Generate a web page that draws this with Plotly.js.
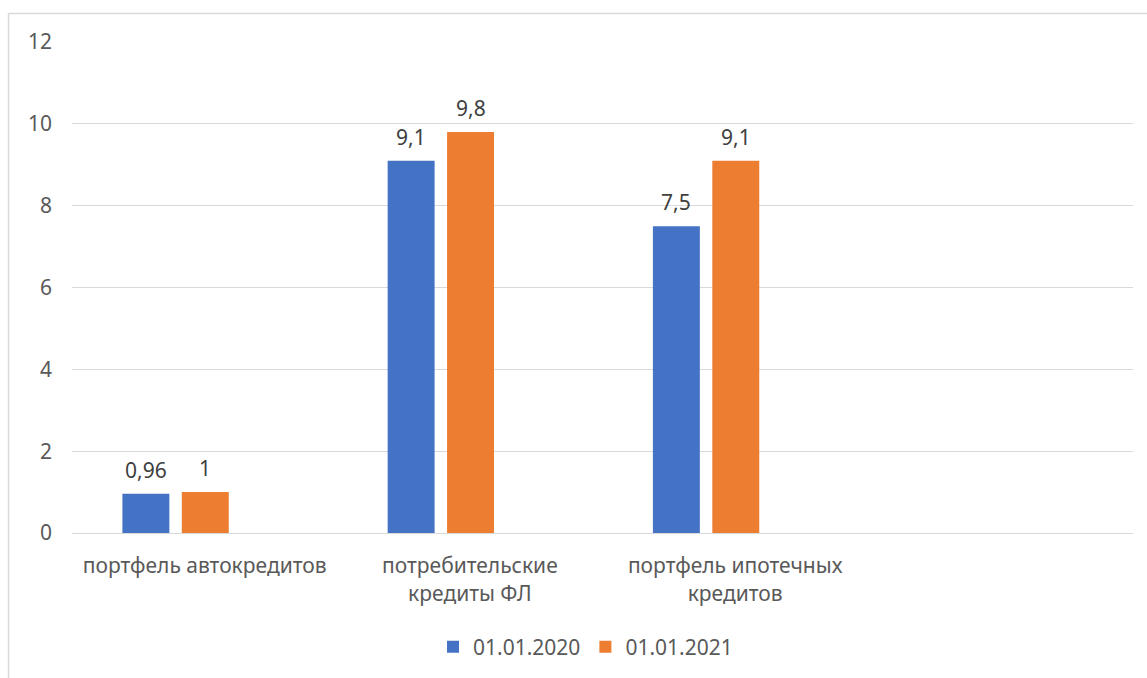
<!DOCTYPE html>
<html>
<head>
<meta charset="utf-8">
<script src="https://cdn.plot.ly/plotly-3.0.1.min.js"></script>
<style>
  html, body { margin: 0; padding: 0; background: #ffffff; }
  #chart { width: 1147px; height: 678px; }
</style>
</head>
<body>
<div id="chart"></div>
<script>
// Loan portfolio categories and values for two reporting dates
const categories = ['портфель автокредитов', 'потребительские<br>кредиты ФЛ', 'портфель ипотечных<br>кредитов'];
const values2020 = [0.96, 9.1, 7.5];
const values2021 = [1, 9.8, 9.1];
const seriesNames = ['01.01.2020', '01.01.2021'];
const yTickValues = [0, 2, 4, 6, 8, 10, 12];

const FONT = 'Noto Sans, Open Sans, sans-serif';
const colors = ['#4472C4', '#ED7D31'];
const barWidth = 0.177;
const barOffsets = [-0.31, -0.086];

const fmt = v => String(v).replace('.', ',');

const seriesValues = [values2020, values2021];

const traces = seriesValues.map((vals, s) => ({
  type: 'bar',
  name: seriesNames[s],
  x: categories,
  y: vals,
  width: barWidth,
  offset: barOffsets[s],
  marker: { color: colors[s] },
  hoverinfo: 'x+y'
}));

// value labels above each bar
const annotations = [];
seriesValues.forEach((vals, s) => {
  vals.forEach((v, i) => {
    annotations.push({
      x: i + barOffsets[s] + barWidth / 2,
      y: v,
      xref: 'x', yref: 'y',
      text: fmt(v),
      showarrow: false,
      yanchor: 'middle',
      yshift: 24,
      font: { family: FONT, size: 21, color: '#404040' }
    });
  });
});

const layout = {
  width: 1147,
  height: 678,
  margin: { l: 72, r: 14, t: 42, b: 144 },
  paper_bgcolor: '#ffffff',
  plot_bgcolor: '#ffffff',
  showlegend: true,
  legend: {
    orientation: 'h',
    x: 0.484, xanchor: 'center',
    y: -0.23, yanchor: 'middle',
    font: { family: FONT, size: 21, color: '#595959' },
    itemwidth: 30,
    traceorder: 'normal'
  },
  xaxis: {
    type: 'category',
    range: [-0.5, 3.5],
    showgrid: false,
    showline: true,
    linecolor: '#d9d9d9',
    linewidth: 1,
    ticks: '',
    tickfont: { family: FONT, size: 21, color: '#595959' },
    ticklabelstandoff: 14,
    fixedrange: true
  },
  yaxis: {
    range: [0, 12],
    tickvals: yTickValues,
    ticktext: yTickValues.map(String),
    showgrid: true,
    gridcolor: '#d9d9d9',
    gridwidth: 1,
    zeroline: false,
    showline: false,
    ticks: '',
    tickfont: { family: FONT, size: 21, color: '#595959' },
    ticklabelstandoff: 19,
    fixedrange: true
  },
  annotations: annotations,
  shapes: [{
    type: 'rect',
    xref: 'paper', yref: 'paper',
    x0: -0.0598, x1: 1.05, y0: -0.35, y1: 1.058,
    line: { color: '#d9d9d9', width: 1.5 },
    fillcolor: 'rgba(0,0,0,0)',
    layer: 'below'
  }]
};

Plotly.newPlot('chart', traces, layout, { displayModeBar: false, staticPlot: true });
</script>
</body>
</html>
